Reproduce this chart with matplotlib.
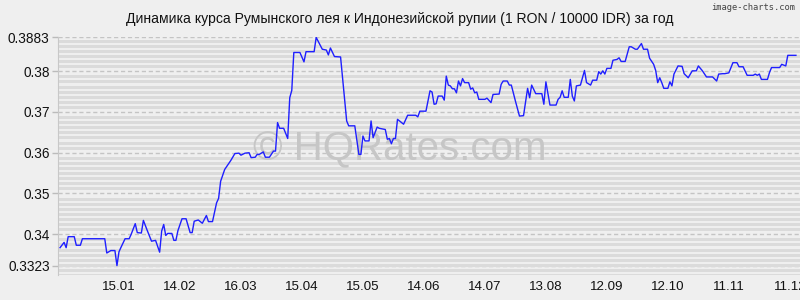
import matplotlib
matplotlib.use("Agg")
import matplotlib.pyplot as plt
import matplotlib.dates as mdates
import numpy as np
import pandas as pd

plt.rcParams['font.family'] = ['Liberation Sans', 'DejaVu Sans']
plt.rcParams['lines.scale_dashes'] = False

start_date = "2024-12-16"
end_date = "2025-12-16"

day_offsets = [1, 3, 4, 5, 8, 9, 11, 12, 23, 24, 26, 28, 29, 30, 31, 33, 35, 36, 38, 39,
               41, 42, 44, 46, 48, 50, 51, 52, 53, 54, 56, 57, 58, 59, 61, 63, 65, 66, 67, 69,
               71, 73, 74, 76, 78, 79, 80, 82, 85, 87, 89, 90, 92, 94, 95, 97, 98, 99, 101, 102,
               104, 106, 107, 108, 109, 111, 113, 114, 115, 116, 119, 121, 122, 126, 127, 130, 132, 133, 134, 136,
               139, 142, 143, 146, 148, 149, 150, 151, 153, 154, 155, 157, 158, 161, 162, 163, 164, 165, 166, 167,
               170, 172, 176, 177, 178, 181, 183, 184, 185, 186, 187, 189, 190, 191, 192, 193, 194, 195, 196, 197,
               198, 199, 200, 202, 203, 204, 205, 206, 207, 210, 211, 213, 214, 217, 218, 219, 221, 222, 223, 225,
               227, 229, 231, 232, 233, 235, 238, 239, 240, 242, 245, 246, 247, 248, 249, 251, 252, 253, 254, 255,
               257, 259, 260, 262, 263, 265, 266, 267, 268, 269, 270, 272, 273, 275, 276, 277, 279, 281, 282, 284,
               285, 287, 288, 290, 291, 293, 294, 295, 296, 297, 298, 300, 301, 302, 303, 305, 307, 308, 310, 312,
               314, 315, 317, 319, 322, 324, 325, 327, 328, 330, 332, 334, 335, 337, 339, 342, 343, 344, 345, 346,
               349, 350, 351, 355, 356, 358, 359, 363]

rates = [0.3367, 0.3380, 0.3367, 0.3394, 0.3394, 0.3373, 0.3373, 0.3389, 0.3389, 0.3354,
         0.3360, 0.3360, 0.3323, 0.3357, 0.3368, 0.3389, 0.3389, 0.3400, 0.3426, 0.3404,
         0.3403, 0.3434, 0.3408, 0.3383, 0.3385, 0.3356, 0.3408, 0.3424, 0.3397, 0.3402,
         0.3402, 0.3385, 0.3385, 0.3409, 0.3438, 0.3438, 0.3404, 0.3404, 0.3432, 0.3435,
         0.3427, 0.3446, 0.3431, 0.3431, 0.3477, 0.3488, 0.3530, 0.3559, 0.3581, 0.3598,
         0.3599, 0.3594, 0.3599, 0.3600, 0.3588, 0.3589, 0.3596, 0.3596, 0.3602, 0.3589,
         0.3589, 0.3604, 0.3604, 0.3674, 0.3660, 0.3660, 0.3635, 0.3735, 0.3753, 0.3846,
         0.3846, 0.3823, 0.3848, 0.3848, 0.3883, 0.3854, 0.3852, 0.3840, 0.3857, 0.3836,
         0.3835, 0.3678, 0.3666, 0.3666, 0.3596, 0.3596, 0.3641, 0.3629, 0.3629, 0.3678,
         0.3637, 0.3663, 0.3660, 0.3657, 0.3633, 0.3635, 0.3622, 0.3635, 0.3635, 0.3682,
         0.3670, 0.3692, 0.3692, 0.3688, 0.3702, 0.3702, 0.3752, 0.3749, 0.3719, 0.3720,
         0.3739, 0.3739, 0.3729, 0.3788, 0.3766, 0.3764, 0.3757, 0.3757, 0.3747, 0.3776,
         0.3764, 0.3782, 0.3772, 0.3772, 0.3756, 0.3759, 0.3747, 0.3749, 0.3731, 0.3731,
         0.3734, 0.3723, 0.3743, 0.3744, 0.3768, 0.3776, 0.3776, 0.3766, 0.3766, 0.3727,
         0.3690, 0.3691, 0.3758, 0.3735, 0.3766, 0.3745, 0.3745, 0.3719, 0.3774, 0.3717,
         0.3717, 0.3731, 0.3736, 0.3752, 0.3736, 0.3736, 0.3780, 0.3739, 0.3727, 0.3764,
         0.3766, 0.3802, 0.3772, 0.3766, 0.3778, 0.3778, 0.3799, 0.3793, 0.3801, 0.3793,
         0.3807, 0.3807, 0.3827, 0.3829, 0.3833, 0.3824, 0.3824, 0.3860, 0.3860, 0.3854,
         0.3854, 0.3868, 0.3854, 0.3854, 0.3832, 0.3817, 0.3802, 0.3772, 0.3784, 0.3772,
         0.3758, 0.3758, 0.3774, 0.3764, 0.3793, 0.3813, 0.3812, 0.3794, 0.3784, 0.3801,
         0.3801, 0.3813, 0.3801, 0.3786, 0.3786, 0.3776, 0.3793, 0.3794, 0.3794, 0.3796,
         0.3821, 0.3821, 0.3811, 0.3811, 0.3790, 0.3790, 0.3793, 0.3790, 0.3793, 0.3780,
         0.3780, 0.3797, 0.3809, 0.3809, 0.3817, 0.3813, 0.3839, 0.3839]

x_tick_dates = ["2025-01-15", "2025-02-14", "2025-03-16", "2025-04-15", "2025-05-15",
                "2025-06-14", "2025-07-14", "2025-08-13", "2025-09-12", "2025-10-12",
                "2025-11-11", "2025-12-11"]
y_ticks = [0.3323, 0.34, 0.35, 0.36, 0.37, 0.38, 0.3883]
y_tick_labels = ["0.3323", "0.34", "0.35", "0.36", "0.37", "0.38", "0.3883"]

title = "Динамика курса Румынского лея к Индонезийской рупии (1 RON / 10000 IDR) за год"

dates = pd.Timestamp(start_date) + pd.to_timedelta(day_offsets, unit="D")

bg = "#efefef"
fig = plt.figure(figsize=(8, 3), dpi=100, facecolor=bg)
ax = fig.add_axes([58 / 800, 25 / 300, 742 / 800, 238 / 300])
ax.set_facecolor(bg)

ax.plot(dates, rates, color="#1f1fff", linewidth=1.0, zorder=3)

ax.set_xlim(pd.Timestamp(start_date), pd.Timestamp(end_date))
ax.set_ylim(0.3303, 0.3884)

ax.set_xticks(pd.to_datetime(x_tick_dates))
ax.xaxis.set_major_formatter(mdates.DateFormatter("%d.%m"))
ax.set_yticks(y_ticks)
ax.set_yticklabels(y_tick_labels)

# dense banded grid
ax.set_yticks(np.arange(0.33, 0.3885, 0.00125), minor=True)
ax.yaxis.grid(True, which="minor", color="#dbdbdb", linewidth=2.16)
ax.yaxis.grid(True, which="major", color="#c4c4c4", linewidth=1.0,
              linestyle=(0, (3, 2)))
ax.xaxis.grid(False)
ax.set_axisbelow(True)

ax.tick_params(axis="x", which="both", length=0, pad=4, labelsize=9.6, colors="#111111")
ax.tick_params(axis="y", which="major", length=4, width=1, color="#bbbbbb", pad=2,
               labelsize=9.8, labelcolor="#111111")
ax.tick_params(axis="y", which="minor", length=0)

for side in ["top", "right", "bottom"]:
    ax.spines[side].set_visible(False)
ax.spines["left"].set_color("#c8c8c8")

fig.text(0.5, 1 - 19 / 300, title, ha="center", va="center", fontsize=10.1, color="#111111")
fig.text(0.994, 1 - 8 / 300, "image-charts.com", ha="right", va="center",
         fontsize=6.3, color="#444444", family="DejaVu Sans Mono")
ax.text(0.5, 1 - 160 / 300, "© HQRates.com", transform=fig.transFigure,
        ha="center", va="baseline", fontsize=29, color="#c6c6c6", zorder=2)

fig.savefig("out.png", dpi=100, facecolor=bg)
